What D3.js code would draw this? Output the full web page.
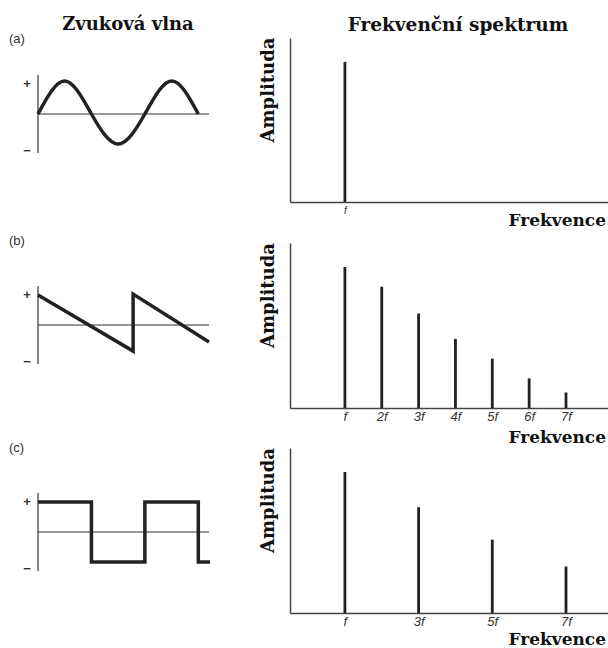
<!DOCTYPE html>
<html>
<head>
<meta charset="utf-8">
<script src="https://cdn.jsdelivr.net/npm/d3@7"></script>
<style>
  body { margin: 0; background: #fff; }
  svg { display: block; }
  .title { font-family: "DejaVu Serif", serif; font-weight: bold; fill: #111; }
  .tick text { font-family: "Liberation Sans", Arial, sans-serif; font-style: italic; fill: #333; }
</style>
</head>
<body>
<svg width="608" height="648"></svg>
<script>
var svg = d3.select("svg");

// spectrum data: harmonic number and relative amplitude
var harmonicsA = [1];
var amplitudesA = [1.0];
var harmonicsB = [1, 2, 3, 4, 5, 6, 7];
var amplitudesB = [1.0, 0.86, 0.67, 0.49, 0.35, 0.21, 0.11];
var harmonicsC = [1, 3, 5, 7];
var amplitudesC = [1.0, 0.75, 0.52, 0.33];

// waveform key points: time (in periods) and value
var sineT = [0, 0.25, 0.5, 0.75, 1, 1.25, 1.5];
var sineV = [0, 1.1, 0, -1.0, 0, 1.1, 0];
var sawT = [0, 0.89, 0.89, 1.6];
var sawV = [1.0, -0.87, 1.03, -0.57];
var squareT = [0, 0.5, 0.5, 1, 1, 1.5, 1.5, 1.61];
var squareV = [1, 1, -1, -1, 1, 1, -1, -1];

var panels = [
    {label: "(a)", top: 38, base: 202, h: harmonicsA, a: amplitudesA, tickSize: 10, tickPad: 5,
     wT: sineT, wV: sineV, zero: 114, curve: d3.curveNatural, labelY: 43, freqY: 226},
    {label: "(b)", top: 243, base: 408, h: harmonicsB, a: amplitudesB, tickSize: 13, tickPad: 4,
     wT: sawT, wV: sawV, zero: 325, curve: d3.curveLinear, labelY: 245, freqY: 443},
    {label: "(c)", top: 448, base: 613, h: harmonicsC, a: amplitudesC, tickSize: 13, tickPad: 4,
     wT: squareT, wV: squareV, zero: 532, curve: d3.curveLinear, labelY: 452, freqY: 645}
];

// shared horizontal scales
var xSpec = d3.scaleLinear().domain([-0.49, 8.14]).range([290, 608]);
var xWave = d3.scaleLinear().domain([0, 1.6]).range([38, 209]);

function fmt(d) {
    return d === 1 ? "f" : d + "f";
}

svg.append("text").attr("class", "title")
    .attr("x", 128).attr("y", 30).attr("text-anchor", "middle")
    .style("font-size", "18px").text("Zvuková vlna");
svg.append("text").attr("class", "title")
    .attr("x", 458).attr("y", 31).attr("text-anchor", "middle")
    .style("font-size", "18.5px").text("Frekvenční spektrum");

panels.forEach(function (p) {
    var y = d3.scaleLinear().domain([0, 1.17]).range([p.base, p.top]);
    var g = svg.append("g");

    // x axis
    var xAxis = g.append("g")
        .attr("transform", "translate(0," + p.base + ")")
        .call(d3.axisBottom(xSpec).tickValues(p.h).tickFormat(fmt)
            .tickSize(0).tickSizeOuter(0).tickPadding(p.tickPad));
    xAxis.select(".domain").attr("stroke", "#444").attr("stroke-width", 1.5);
    xAxis.selectAll(".tick text").style("font-size", p.tickSize + "px");

    // y axis
    var yAxis = g.append("g")
        .attr("transform", "translate(" + xSpec.range()[0] + ",0)")
        .call(d3.axisLeft(y).tickValues([]).tickSizeOuter(0));
    yAxis.select(".domain").attr("stroke", "#444").attr("stroke-width", 1.5);

    // spectral lines
    g.selectAll(".bar")
        .data(p.h)
        .enter().append("line")
        .attr("class", "bar")
        .attr("x1", function (d) { return xSpec(d); })
        .attr("x2", function (d) { return xSpec(d); })
        .attr("y1", y(0))
        .attr("y2", function (d, i) { return y(p.a[i]); })
        .attr("stroke", "#222")
        .attr("stroke-width", 2.8);

    g.append("text").attr("class", "title")
        .attr("transform", "translate(274," + ((p.top + p.base) / 2 - 30) + ") rotate(-90)")
        .attr("text-anchor", "middle")
        .style("font-size", "18px").text("Amplituda");

    g.append("text").attr("class", "title")
        .attr("x", 606).attr("y", p.freqY).attr("text-anchor", "end")
        .style("font-size", "17px").text("Frekvence");

    // waveform
    var yw = d3.scaleLinear().domain([-1, 1]).range([p.zero + 30, p.zero - 30]);
    g.append("text")
        .attr("x", 9).attr("y", p.labelY)
        .style("font-family", "Liberation Sans, Arial, sans-serif")
        .style("font-size", "13px").attr("fill", "#333")
        .text(p.label);

    g.append("line")
        .attr("x1", xWave(0)).attr("x2", xWave(0))
        .attr("y1", yw(1.3)).attr("y2", yw(-1.3))
        .attr("stroke", "#444").attr("stroke-width", 1.3);
    g.append("line")
        .attr("x1", xWave(0)).attr("x2", xWave(1.6))
        .attr("y1", yw(0)).attr("y2", yw(0))
        .attr("stroke", "#333").attr("stroke-width", 1);

    g.append("text").attr("x", 27).attr("y", yw(1.05) + 5)
        .attr("text-anchor", "middle")
        .style("font-family", "Liberation Sans, Arial, sans-serif")
        .style("font-weight", "bold")
        .style("font-size", "13px").attr("fill", "#333").text("+");
    g.append("text").attr("x", 27).attr("y", yw(-1.2) + 5)
        .attr("text-anchor", "middle")
        .style("font-family", "Liberation Sans, Arial, sans-serif")
        .style("font-weight", "bold")
        .style("font-size", "13px").attr("fill", "#333").text("\u2212");

    var pts = p.wT.map(function (t, i) { return [t, p.wV[i]]; });
    var line = d3.line()
        .x(function (d) { return xWave(d[0]); })
        .y(function (d) { return yw(d[1]); })
        .curve(p.curve);
    g.append("path")
        .datum(pts)
        .attr("d", line)
        .attr("fill", "none")
        .attr("stroke", "#222")
        .attr("stroke-width", 3.5)
        .attr("stroke-linejoin", "miter");
});
</script>
</body>
</html>
